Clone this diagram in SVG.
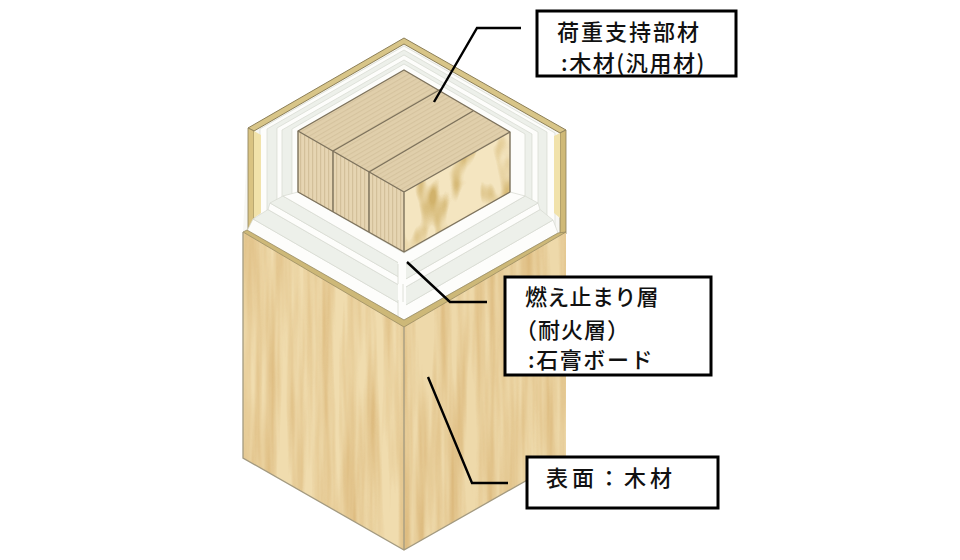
<svg xmlns="http://www.w3.org/2000/svg" width="960" height="560" viewBox="0 0 960 560">
<style>
text{font-family:"Noto Sans CJK JP","Liberation Sans",sans-serif;font-size:22px;font-weight:500;fill:#111}
.box{fill:#fff;stroke:#000;stroke-width:3}
.lead{fill:none;stroke:#000;stroke-width:2.4}
.edge{stroke:#7d725c;stroke-width:1.4;stroke-linejoin:round}
.rim{fill:#d8c588;stroke:#8c7f58;stroke-width:1}
.w{fill:#fdfdfb;stroke:#d6d8d0;stroke-width:.7}
.g{fill:#edf0ea;stroke:#d6d8d0;stroke-width:.7}
</style>
<defs>
<filter id="grainL" x="0" y="0" width="100%" height="100%" color-interpolation-filters="sRGB">
<feTurbulence type="fractalNoise" baseFrequency="0.09 0.005" numOctaves="3" seed="7"/>
<feColorMatrix values="0 0 0 0 .82  0 0 0 0 .65  0 0 0 0 .38  1.3 0 0 0 -.46"/>
<feComposite in2="SourceGraphic" operator="in" result="g"/>
<feMerge><feMergeNode in="SourceGraphic"/><feMergeNode in="g"/></feMerge>
</filter>
<filter id="grainB" x="0" y="0" width="100%" height="100%" color-interpolation-filters="sRGB">
<feTurbulence type="fractalNoise" baseFrequency="0.06 0.022" numOctaves="2" seed="11"/>
<feColorMatrix values="0 0 0 0 .82  0 0 0 0 .70  0 0 0 0 .42  4 0 0 0 -2"/>
<feComposite in2="SourceGraphic" operator="in" result="g"/>
<feMerge><feMergeNode in="SourceGraphic"/><feMergeNode in="g"/></feMerge>
</filter>
<pattern id="vs" width="4" height="4" patternUnits="userSpaceOnUse">
<rect width="4" height="4" fill="#e6d5b2"/><rect width="1.2" height="4" fill="#d3c09a"/>
</pattern>
<pattern id="ts" width="4" height="4" patternUnits="userSpaceOnUse" patternTransform="rotate(-30)">
<rect width="4" height="4" fill="#e0cfab"/><rect width="4" height="1.1" fill="#d5c39e"/>
</pattern>
</defs>

<g id="cavity">
<polygon points="248,128 404,38 566,130 566,235 404,325 243,232" fill="#f7f7f4"/>
<polygon class="w" points="404,46 555,133 555,233 404,320 260,237 260,129"/>
<polygon class="g" points="404,50 547,132 547,228 404,312 267,233 267,129"/>
<polygon class="w" points="404,55 538,132 538,203 404,290 277,203 277,128"/>
<polygon class="g" points="404,60 532,134 532,200 404,280 282,200 282,130"/>
<polygon class="w" points="404,64 525,134 525,196 404,266 292,196 292,129"/>
</g>

<g id="casing-upper">
<polygon class="rim" points="248,128 404,38 566,130 560,133 404,44 254,131"/>
<polygon points="248,128 254,131 254,232 248,230" fill="#d9c382" stroke="#8c7f58" stroke-width=".8"/>
<polygon points="254,131 261,135 261,213 254,218" fill="#f1e2aa"/>
<polygon points="560,133 566,130 566,234 560,236" fill="#cfb977" stroke="#8c7f58" stroke-width=".8"/>
<polygon points="554,136 560,133 560,218 554,213" fill="#f1e2aa"/>
</g>

<g id="fire-layer">
<polygon class="w" points="253,219 404,306 553,220 558,233 404,320 247,231"/>
<polygon class="g" points="268,209.5 404,288 540,209.5 553,220 404,306 253,219"/>
<polygon class="w" points="270,203 404,280 538,203 540,209.5 404,288 268,209.5"/>
<polygon class="g" points="283,196 404,266 525,196 538,203 404,280 270,203"/>
<polygon class="w" points="298,192 404,253 510,192 525,196 404,266 283,196"/>
<polygon points="398,262 406,262 406,318 398,316" fill="#fdfdfb"/>
<path d="M398,264V284M403,284V302M398,300V316" stroke="#d6d8d0" stroke-width=".8" fill="none"/>
</g>

<g id="core">
<polygon points="404,70 510,132 404,192 298,131" fill="url(#ts)"/>
<polygon points="298,131 404,192 404,252 298,192" fill="url(#vs)"/>
<polygon points="404,192 510,132 510,192 404,252" fill="#f4e5c0" filter="url(#grainB)"/>
<polygon class="edge" points="404,70 510,132 510,192 404,252 298,192 298,131" fill="none"/>
<path class="edge" fill="none" d="M298,131 404,192 510,132M404,192V252M333,151V212M369,172V232M333,151 441,89M369,172 473,111"/>
</g>

<g id="casing-lower">
<polygon points="243,232 404,325 404,550 243,458" fill="#f0dcae" filter="url(#grainL)"/>
<polygon points="404,325 566,232 566,458 404,550" fill="#eed9aa" filter="url(#grainL)"/>
<polygon points="243,232 247,230 404,320 558,233 566,232 404,327" fill="#cdb878" stroke="#91845c" stroke-width=".7"/>
<path d="M243,232 243,458 404,550 566,458M404,327V550" fill="none" stroke="#a39a80" stroke-width="1.3"/>
</g>

<g id="connectors">
<polyline class="lead" points="434,102 477,28 521,28"/>
<polyline class="lead" points="407,262 450,302 487,302"/>
<polyline class="lead" points="428,377 472,483 508,483"/>
</g>

<g id="label-core">
<rect class="box" x="537" y="11" width="199" height="65"/>
<text x="557" y="40" letter-spacing="2">荷重支持部材</text>
<text x="561" y="71" letter-spacing="1.6">:木材(汎用材)</text>
</g>
<g id="label-fire">
<rect class="box" x="505" y="277" width="206" height="98"/>
<text x="525" y="305" letter-spacing=".3">燃え止まり層</text>
<text x="515" y="338" letter-spacing="1">（耐火層）</text>
<text x="528" y="368" letter-spacing="1.6">:石膏ボード</text>
</g>
<g id="label-surface">
<rect class="box" x="527" y="457" width="191" height="51"/>
<text x="546" y="486" letter-spacing="4">表面：木材</text>
</g>
</svg>
